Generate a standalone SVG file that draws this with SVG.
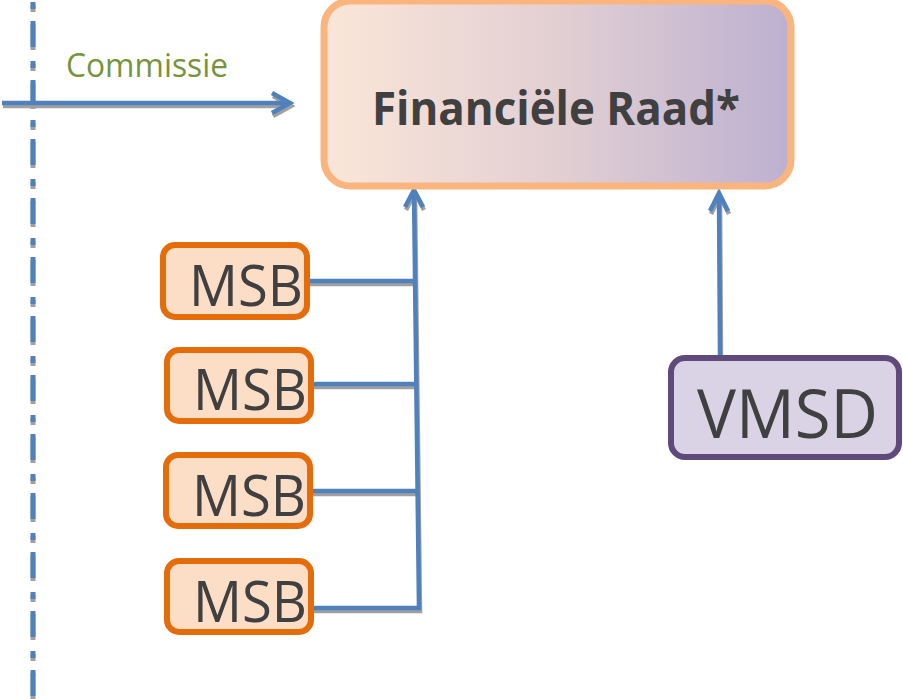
<svg xmlns="http://www.w3.org/2000/svg" width="903" height="699" viewBox="0 0 903 699">
<defs>
<linearGradient id="frGrad" x1="0" y1="0" x2="1" y2="0">
<stop offset="0" stop-color="#fbe6d8"/>
<stop offset="0.5" stop-color="#e2cfd3"/>
<stop offset="1" stop-color="#bdb0d0"/>
</linearGradient>
</defs>
<style>
.msb rect{fill:#fcdec7;stroke:#e46c0a;stroke-width:6}
.lbl{font-family:"Open Sans","Liberation Sans",sans-serif;fill:#404040}
.ln{fill:none;stroke:#4f81bd;stroke-width:4.5}
.sh{fill:none;stroke:#a0a0a0;stroke-width:4.5}
</style>
<g id="divider">
<line x1="33" y1="2" x2="33" y2="699" stroke="#a0a0a0" stroke-width="5" stroke-dasharray="7 12 26 14" transform="translate(0,3)"/>
<line x1="33" y1="2" x2="33" y2="699" stroke="#4f81bd" stroke-width="5" stroke-dasharray="7 12 26 14"/>
</g>
<g id="connectors">
<g transform="translate(1,3)">
<path class="sh" d="M2,103 H288 M272,93 L290,103 L272,113"/>
<path class="sh" d="M308,281 H414 M311,384 H415 M311,491 H417 M312,608 H419 L414,192"/>
<path class="sh" d="M405,207 L414,190 L423,207"/>
<path class="sh" d="M720,357 L719,196 M710,211 L719,193 L728,211"/>
</g>
<path class="ln" d="M2,103 H288 M272,93 L290,103 L272,113"/>
<path class="ln" d="M308,281 H414 M311,384 H415 M311,491 H417 M312,608 H419 L414,192"/>
<path class="ln" d="M405,207 L414,190 L423,207"/>
<path class="ln" d="M720,357 L719,196 M710,211 L719,193 L728,211"/>
</g>
<g id="commissie">
<text x="66" y="77" font-family="'Open Sans','Liberation Sans',sans-serif" font-size="33" fill="#77933c" textLength="162" lengthAdjust="spacingAndGlyphs">Commissie</text>
</g>
<g id="financiele-raad">
<rect x="324" y="1" width="467" height="185" rx="26" fill="url(#frGrad)" stroke="#fab57e" stroke-width="7"/>
<text class="lbl" x="372" y="125" font-size="47" font-weight="bold" textLength="368" lengthAdjust="spacingAndGlyphs">Financiële Raad*</text>
</g>
<g id="msb1" class="msb">
<rect x="163" y="245" width="144" height="72" rx="12"/>
<text class="lbl" x="189" y="306" font-size="57" textLength="114" lengthAdjust="spacingAndGlyphs">MSB</text>
</g>
<g id="msb2" class="msb">
<rect x="167" y="350" width="144" height="71" rx="12"/>
<text class="lbl" x="193" y="410" font-size="57" textLength="114" lengthAdjust="spacingAndGlyphs">MSB</text>
</g>
<g id="msb3" class="msb">
<rect x="166" y="455" width="144" height="71" rx="12"/>
<text class="lbl" x="192" y="516" font-size="57" textLength="114" lengthAdjust="spacingAndGlyphs">MSB</text>
</g>
<g id="msb4" class="msb">
<rect x="167" y="561" width="144" height="71" rx="12"/>
<text class="lbl" x="193" y="622" font-size="57" textLength="114" lengthAdjust="spacingAndGlyphs">MSB</text>
</g>
<g id="vmsd">
<rect x="671" y="358" width="228" height="99" rx="14" fill="#dad2e5" stroke="#604a7b" stroke-width="6"/>
<text class="lbl" x="697" y="438" font-size="67" textLength="181" lengthAdjust="spacingAndGlyphs">VMSD</text>
</g>
</svg>
